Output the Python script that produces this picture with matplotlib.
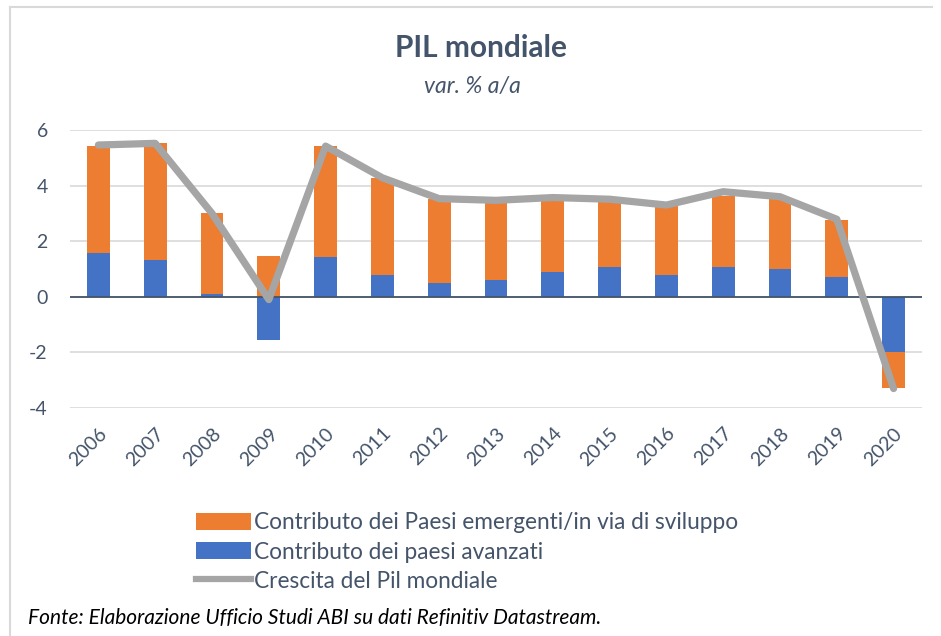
import matplotlib
matplotlib.use("Agg")
import matplotlib.pyplot as plt
from matplotlib.patches import Patch
from matplotlib.lines import Line2D
import numpy as np

plt.rcParams['font.family'] = ['Lato', 'DejaVu Sans']

# data
anni = ['2006', '2007', '2008', '2009', '2010', '2011', '2012', '2013',
        '2014', '2015', '2016', '2017', '2018', '2019', '2020']
avanzati = [1.58, 1.34, 0.11, -1.56, 1.44, 0.79, 0.50, 0.61,
            0.90, 1.08, 0.78, 1.08, 1.00, 0.70, -2.00]
emergenti = [3.84, 4.18, 2.90, 1.46, 3.98, 3.47, 3.00, 2.75,
             2.55, 2.32, 2.49, 2.56, 2.57, 2.06, -1.27]
pil_mondiale = [5.46, 5.52, 3.00, -0.10, 5.42, 4.28, 3.53, 3.47,
                3.57, 3.51, 3.30, 3.78, 3.60, 2.79, -3.30]

ARANCIO = '#ED7D31'
BLU = '#4472C4'
GRIGIO = '#A5A5A5'
TESTO = '#44546A'

fig = plt.figure(figsize=(9.41, 6.36), dpi=100)
ax = fig.add_axes([70 / 941, 1 - 408 / 636, 852 / 941, 278 / 636])

x = np.arange(len(anni))
av = np.array(avanzati)
em = np.array(emergenti)
# excel-style stacking: positives and negatives stack separately
base_em = np.where(np.sign(em) == np.sign(av), av, 0.0)

ax.bar(x, av, width=0.4, color=BLU, zorder=2)
ax.bar(x, em, width=0.4, bottom=base_em, color=ARANCIO, zorder=2)
ax.plot(x, pil_mondiale, color=GRIGIO, linewidth=5.2, solid_capstyle='round',
        solid_joinstyle='round', zorder=4)
ax.axhline(0, color=TESTO, linewidth=1.3, zorder=3)

ax.set_xlim(-0.5, len(anni) - 0.5)
ax.set_ylim(-4, 6)
ax.set_yticks([-4, -2, 0, 2, 4, 6])
ax.set_yticklabels(['-4', '-2', '0', '2', '4', '6'])
ax.yaxis.grid(True, color='#D9D9D9', linewidth=1.2, zorder=0)
ax.set_axisbelow(True)
for s in ax.spines.values():
    s.set_visible(False)
ax.tick_params(axis='both', length=0, labelsize=14, labelcolor=TESTO)
ax.tick_params(axis='y', pad=16)
ax.set_xticks(x)
ax.set_xticklabels(anni, rotation=45, ha='right', rotation_mode='anchor')
ax.tick_params(axis='x', pad=12)

fig.text(481 / 941, 1 - 48 / 636, 'PIL mondiale', ha='center', va='center',
         fontsize=21.5, fontweight='bold', color=TESTO)
fig.text(472 / 941, 1 - 86 / 636, 'var. % a/a', ha='center', va='center',
         fontsize=16.5, style='italic', color=TESTO)

handles = [Patch(facecolor=ARANCIO, edgecolor='none'),
           Patch(facecolor=BLU, edgecolor='none'),
           Line2D([0], [0], color=GRIGIO, linewidth=4.5)]
etichette = ['Contributo dei Paesi emergenti/in via di sviluppo',
             'Contributo dei paesi avanzati',
             'Crescita del Pil mondiale']
fig.legend(handles, etichette, loc='upper left',
           bbox_to_anchor=(176 / 941, 1 - 492 / 636), frameon=False,
           fontsize=16.3, labelcolor=TESTO, handlelength=2.4,
           handleheight=0.8, handletextpad=0.15, labelspacing=0.36)

fig.text(28 / 941, 1 - 618 / 636,
         'Fonte: Elaborazione Ufficio Studi ABI su dati Refinitiv Datastream.',
         ha='left', va='center', fontsize=15, style='italic', color='black')

# cornice grigia del grafico
fig.add_artist(Line2D([10 / 941, 10 / 941], [0, 1 - 7 / 636],
                      color='#D9D9D9', linewidth=1.5))
fig.add_artist(Line2D([10 / 941, 932 / 941], [1 - 7 / 636, 1 - 7 / 636],
                      color='#D9D9D9', linewidth=1.5))

fig.savefig('out.png', dpi=100)
